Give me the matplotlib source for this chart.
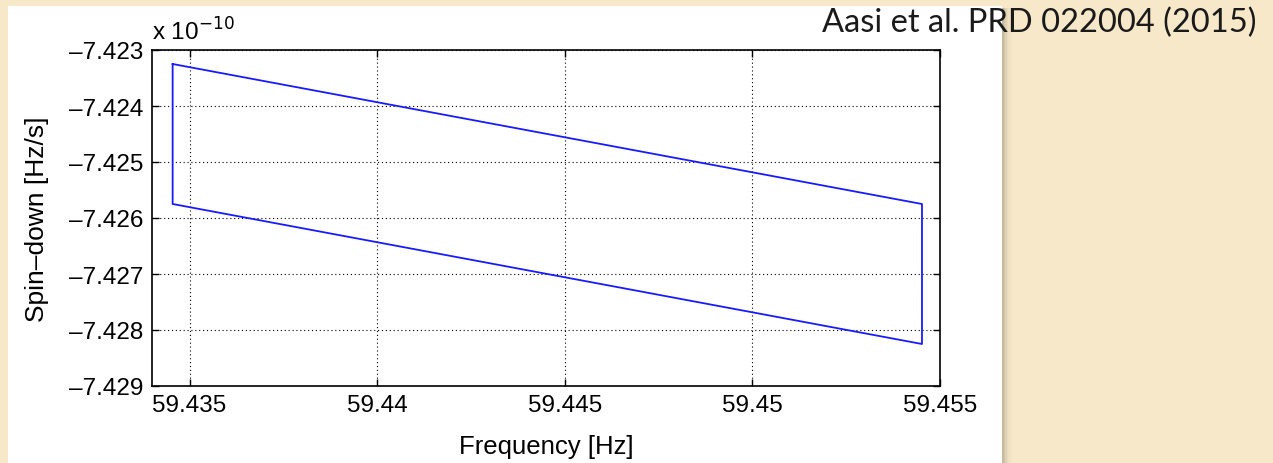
import matplotlib
matplotlib.use("Agg")
import matplotlib.pyplot as plt
from matplotlib.patches import Rectangle
from matplotlib.ticker import FuncFormatter

plt.rcParams['font.family'] = ['Liberation Sans', 'DejaVu Sans']

# parallelogram corners: frequency [Hz], spin-down [Hz/s]
freq = [59.43455, 59.45452, 59.45452, 59.43455, 59.43455]
spindown = [-7.42325e-10, -7.42575e-10, -7.42825e-10, -7.42575e-10, -7.42325e-10]

xticks = [59.435, 59.44, 59.445, 59.45, 59.455]
yticks = [-7.429e-10, -7.428e-10, -7.427e-10, -7.426e-10, -7.425e-10, -7.424e-10, -7.423e-10]

citation = "Aasi et al. PRD 022004 (2015)"
parchment = '#F6E8C8'

fig = plt.figure(figsize=(12.73, 4.64), dpi=100, facecolor=parchment)

# white slide panel with a soft shadow on its right side
W, H = 1273.0, 464.0
for i, a in enumerate([0.35, 0.25, 0.17, 0.1, 0.05, 0.02]):
    fig.patches.append(Rectangle(((1002 + i * 1.6) / W, 0), 1.6 / W, (H - 9) / H,
                                 transform=fig.transFigure, color='#6b6456',
                                 alpha=a, lw=0, zorder=-2))
fig.patches.append(Rectangle((8 / W, 0), (1002 - 8) / W, (H - 7) / H,
                             transform=fig.transFigure, color='white', lw=0, zorder=-1))

ax = fig.add_axes([152 / W, (H - 387) / H, (940 - 152) / W, (387 - 51) / H])
ax.set_zorder(1)
ax.patch.set_alpha(0)
ax.plot(freq, spindown, color='#1a1aff', lw=1.3)

ax.set_xlim(59.434, 59.455)
ax.set_ylim(-7.429e-10, -7.423e-10)
ax.set_xticks(xticks)
ax.set_yticks(yticks)
ax.xaxis.set_major_formatter(FuncFormatter(lambda v, p: '%g' % round(v, 4)))
ax.yaxis.set_major_formatter(FuncFormatter(lambda v, p: ('%.3f' % (v / 1e-10)).replace('-', '\u2013')))

ax.grid(True, color='black', linestyle=(0, (1, 2.5)), lw=0.8)
ax.tick_params(direction='in', top=True, right=True, length=5, width=1,
               labelsize=17.5, pad=6)
for s in ax.spines.values():
    s.set_linewidth(1.2)

ax.set_xlabel('Frequency [Hz]', fontsize=18.5)
ax.set_ylabel('Spin\u2013down [Hz/s]', fontsize=19)
ax.xaxis.set_label_coords(0.5, -0.143)
ax.yaxis.set_label_coords(-0.131, 0.5)

ax.text(0.0, 1.015, r'x 10$^{-10}$', transform=ax.transAxes, fontsize=17.5,
        ha='left', va='bottom')

fig.text(1256 / W, (H - 32) / H, citation, fontsize=23.5, family=['Lato', 'DejaVu Sans'],
         color='#1a1a1a', ha='right', va='baseline')

fig.savefig('out.png', dpi=100, facecolor=parchment)
